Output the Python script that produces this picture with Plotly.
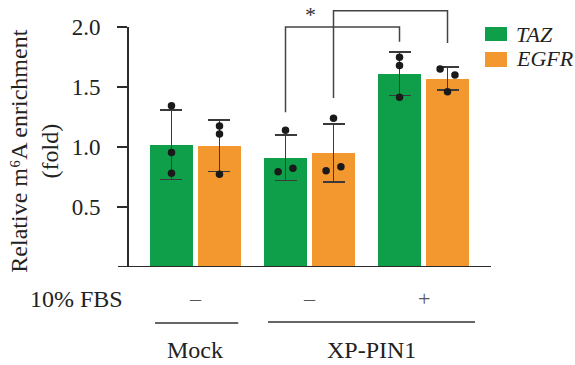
import plotly.graph_objects as go

# ---- data ----
groups = ["Mock", "XP-PIN1 (-FBS)", "XP-PIN1 (+FBS)"]
fbs_labels = ["–", "–", "+"]
taz_mean = [1.02, 0.91, 1.61]
egfr_mean = [1.01, 0.95, 1.57]
taz_sd = [0.29, 0.19, 0.18]
egfr_sd = [0.215, 0.243, 0.097]
taz_points = [[1.344, 0.953, 0.781], [1.14, 0.794, 0.822], [1.747, 1.678, 1.414]]
egfr_points = [[1.175, 1.108, 0.772], [1.239, 0.803, 0.836], [1.65, 1.60, 1.461]]
# horizontal jitter of dots (-1 left, 0 centre, 1 right)
taz_jitter = [[0, 0, 0], [0, -1, 1], [0, 0, 0]]
egfr_jitter = [[0, 0, 0], [0, -1, 1], [-1, 1, 0]]
y_tickvals = [0.5, 1.0, 1.5, 2.0]
y_ticktext = ["0.5", "1.0", "1.5", "2.0"]

GREEN = "#0f9f4b"
ORANGE = "#f3982f"
DARK = "#2b2b2b"
FONT = "Liberation Serif, Times New Roman, Times, serif"
OFF = 0.2105
BW = 0.377
JIT = 0.065

gx = list(range(len(groups)))
fig = go.Figure()

for mean, sd, col, sgn, name in [(taz_mean, taz_sd, GREEN, -1, "TAZ"),
                                 (egfr_mean, egfr_sd, ORANGE, 1, "EGFR")]:
    fig.add_trace(go.Bar(
        x=[g + sgn * OFF for g in gx], y=mean, width=BW,
        marker=dict(color=col, line=dict(width=0)), name=name, showlegend=False,
        error_y=dict(type="data", array=sd, visible=True, color="#3a3a3a",
                     thickness=1.5, width=11)))

for pts, jit, sgn in [(taz_points, taz_jitter, -1), (egfr_points, egfr_jitter, 1)]:
    xs, ys = [], []
    for g, (p, j) in enumerate(zip(pts, jit)):
        for v, jj in zip(p, j):
            xs.append(g + sgn * OFF + jj * JIT)
            ys.append(v)
    fig.add_trace(go.Scatter(x=xs, y=ys, mode="markers", showlegend=False,
                             marker=dict(color="#1a1a1a", size=7.5, line=dict(width=0))))

shapes = []
# axis lines
shapes.append(dict(type="line", xref="paper", yref="y", x0=0, x1=0, y0=0, y1=2.0,
                   line=dict(color=DARK, width=2)))
shapes.append(dict(type="line", xref="paper", yref="y", x0=-0.0275, x1=1.0, y0=0, y1=0,
                   line=dict(color=DARK, width=2)))
# significance brackets
b1 = (gx[1] - OFF, gx[2] - OFF)
b2 = (gx[1] + OFF, gx[2] + OFF)
shapes.append(dict(type="path", xref="x", yref="y",
                   path=f"M {b1[0]},1.29 L {b1[0]},2.0 L {b1[1]},2.0 L {b1[1]},1.877",
                   line=dict(color="#444", width=1.5)))
shapes.append(dict(type="path", xref="x", yref="y",
                   path=f"M {b2[0]},1.408 L {b2[0]},2.136 L {b2[1]},2.136 L {b2[1]},1.867",
                   line=dict(color="#444", width=1.5)))
# group underlines
shapes.append(dict(type="line", xref="x", yref="paper", x0=-0.355, x1=0.375,
                   y0=-0.2137, y1=-0.2137, line=dict(color="#333", width=1.5)))
shapes.append(dict(type="line", xref="x", yref="paper", x0=0.636, x1=2.452,
                   y0=-0.21, y1=-0.21, line=dict(color="#333", width=1.5)))
# legend swatches
shapes.append(dict(type="rect", xref="paper", yref="paper", x0=0.9835, x1=1.0441,
                   y0=0.8626, y1=0.916, fillcolor=GREEN, line=dict(width=0)))
shapes.append(dict(type="rect", xref="paper", yref="paper", x0=0.9835, x1=1.0441,
                   y0=0.7634, y1=0.8206, fillcolor=ORANGE, line=dict(width=0)))

ann = []
tf = dict(family=FONT, size=24, color="#222")
ann.append(dict(text="*", x=1.013, y=2.1, xref="x", yref="y", showarrow=False,
                font=dict(family=FONT, size=22, color="#333")))
ann.append(dict(text="*", x=1.82, y=2.246, xref="x", yref="y", showarrow=False,
                font=dict(family=FONT, size=22, color="#333")))
ann.append(dict(text="10% FBS", x=-0.008, y=-0.122, xref="paper", yref="paper",
                xanchor="right", yanchor="middle", showarrow=False, font=tf))
for g, s in zip(gx, fbs_labels):
    ann.append(dict(text=s, x=g, y=-0.122, xref="x", yref="paper", showarrow=False,
                    yanchor="middle", font=dict(family=FONT, size=22, color="#555")))
ann.append(dict(text="Mock", x=0, y=-0.317, xref="x", yref="paper", showarrow=False,
                yanchor="middle", font=tf))
ann.append(dict(text="XP-PIN1", x=1.545, y=-0.317, xref="x", yref="paper", showarrow=False,
                yanchor="middle", font=tf))
ann.append(dict(text="Relative m⁶A enrichment<br>(fold)", textangle=-90,
                x=-0.257, y=0.443, xref="paper", yref="paper", showarrow=False,
                xanchor="center", yanchor="middle", font=tf))
ann.append(dict(text="<i>TAZ</i>", x=1.063, y=0.889, xref="paper", yref="paper",
                xanchor="left", yanchor="middle", showarrow=False,
                font=dict(family=FONT, size=22, color="#222")))
ann.append(dict(text="<i>EGFR</i>", x=1.063, y=0.794, xref="paper", yref="paper",
                xanchor="left", yanchor="middle", showarrow=False,
                font=dict(family=FONT, size=22, color="#222")))

fig.update_layout(
    width=575, height=365, autosize=False,
    margin=dict(l=128, r=84, t=5, b=98, pad=0),
    plot_bgcolor="white", paper_bgcolor="white",
    bargap=0, shapes=shapes, annotations=ann, showlegend=False,
    xaxis=dict(range=[-0.592, 2.592], visible=False, fixedrange=True),
    yaxis=dict(range=[0, 2.183], tickvals=y_tickvals, ticktext=y_ticktext,
               ticks="outside", ticklen=10, tickwidth=2, tickcolor=DARK,
               showline=False, showgrid=False, zeroline=False,
               ticklabelstandoff=12,
               tickfont=dict(family=FONT, size=23, color="#222")),
)

fig.write_html("out.html")
